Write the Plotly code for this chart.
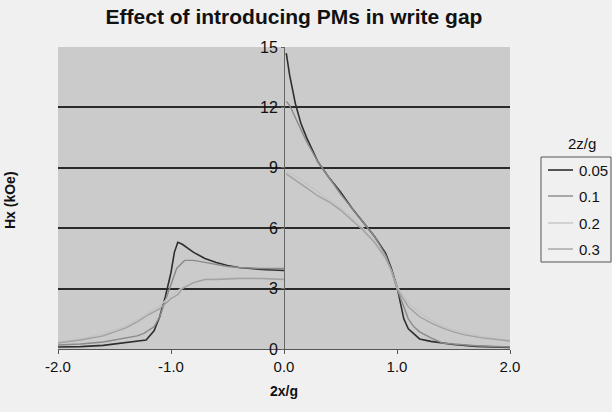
import plotly.graph_objects as go

# ---- data ----
series_names = ["0.05", "0.1", "0.2", "0.3"]

# left half (x <= 0)
x_left_005 = [-2.0, -1.8, -1.6, -1.5, -1.4, -1.3, -1.22, -1.15, -1.1, -1.05, -1.0, -0.97, -0.94, -0.9, -0.8, -0.7, -0.6, -0.5, -0.4, -0.2, 0.0]
y_left_005 = [0.1, 0.12, 0.18, 0.25, 0.35, 0.4, 0.45, 0.9, 1.6, 2.6, 3.8, 4.8, 5.3, 5.2, 4.8, 4.5, 4.3, 4.15, 4.05, 3.95, 3.9]

x_left_01 = [-2.0, -1.8, -1.6, -1.5, -1.4, -1.3, -1.24, -1.15, -1.1, -1.05, -1.0, -0.95, -0.88, -0.8, -0.7, -0.6, -0.5, -0.4, -0.2, 0.0]
y_left_01 = [0.2, 0.25, 0.35, 0.45, 0.55, 0.65, 0.78, 1.1, 1.6, 2.4, 3.3, 4.0, 4.4, 4.4, 4.3, 4.2, 4.1, 4.05, 4.0, 4.0]

x_left_02 = [-2.0, -1.8, -1.6, -1.5, -1.4, -1.3, -1.2, -1.1, -1.0, -0.9, -0.8, -0.7, -0.6, -0.4, -0.2, 0.0]
y_left_02 = [0.35, 0.5, 0.75, 0.95, 1.15, 1.45, 1.8, 2.15, 2.65, 3.05, 3.3, 3.45, 3.5, 3.55, 3.5, 3.5]

x_left_03 = [-2.0, -1.8, -1.6, -1.5, -1.4, -1.3, -1.2, -1.1, -1.0, -0.94, -0.9, -0.8, -0.7, -0.6, -0.4, -0.2, 0.0]
y_left_03 = [0.3, 0.45, 0.65, 0.85, 1.05, 1.35, 1.7, 2.0, 2.5, 2.7, 3.0, 3.3, 3.45, 3.45, 3.5, 3.5, 3.45]

# right half (x > 0)
x_right_005 = [0.02, 0.05, 0.1, 0.15, 0.2, 0.3, 0.4, 0.5, 0.6, 0.7, 0.8, 0.9, 0.95, 1.0, 1.03, 1.06, 1.1, 1.2, 1.3, 1.5, 1.7, 2.0]
y_right_005 = [14.7, 13.6, 12.2, 11.2, 10.5, 9.3, 8.5, 7.8, 7.0, 6.3, 5.6, 4.75, 4.0, 3.1, 2.2, 1.5, 1.0, 0.5, 0.38, 0.22, 0.13, 0.08]

x_right_01 = [0.02, 0.05, 0.1, 0.15, 0.2, 0.3, 0.4, 0.5, 0.6, 0.7, 0.8, 0.9, 0.95, 1.0, 1.05, 1.1, 1.15, 1.2, 1.3, 1.4, 1.5, 1.7, 2.0]
y_right_01 = [12.3, 12.1, 11.5, 10.9, 10.3, 9.3, 8.5, 7.7, 7.0, 6.3, 5.6, 4.65, 3.9, 3.0, 2.2, 1.5, 1.1, 0.85, 0.55, 0.3, 0.25, 0.16, 0.1]

x_right_02 = [0.02, 0.1, 0.2, 0.3, 0.4, 0.5, 0.6, 0.7, 0.8, 0.9, 0.95, 1.0, 1.1, 1.2, 1.3, 1.4, 1.5, 1.6, 1.75, 2.0]
y_right_02 = [8.8, 8.6, 8.2, 7.8, 7.4, 7.0, 6.5, 6.0, 5.4, 4.5, 3.9, 3.1, 2.3, 1.8, 1.45, 1.15, 0.95, 0.8, 0.62, 0.45]

x_right_03 = [0.02, 0.1, 0.2, 0.3, 0.4, 0.5, 0.6, 0.7, 0.8, 0.9, 0.95, 1.0, 1.1, 1.2, 1.3, 1.4, 1.5, 1.6, 1.75, 2.0]
y_right_03 = [8.7, 8.4, 8.0, 7.6, 7.3, 6.9, 6.4, 5.9, 5.3, 4.5, 3.9, 3.0, 2.1, 1.6, 1.3, 1.05, 0.85, 0.7, 0.55, 0.4]

x_ticks = [-2.0, -1.0, 0.0, 1.0, 2.0]
y_ticks = [0, 3, 6, 9, 12, 15]
legend_title = "2z/g"

colors = ["#2e2e2e", "#8a8a8a", "#c4c4c4", "#a2a2a2"]
widths = [1.6, 1.4, 1.4, 1.4]

lefts = [(x_left_005, y_left_005), (x_left_01, y_left_01), (x_left_02, y_left_02), (x_left_03, y_left_03)]
rights = [(x_right_005, y_right_005), (x_right_01, y_right_01), (x_right_02, y_right_02), (x_right_03, y_right_03)]

fig = go.Figure()
for name, (xl, yl), (xr, yr), c, w in zip(series_names, lefts, rights, colors, widths):
    xs = list(xl) + [None] + list(xr)
    ys = list(yl) + [None] + list(yr)
    fig.add_trace(go.Scatter(x=xs, y=ys, mode="lines", name=name, showlegend=False,
                             line=dict(color=c, width=w), connectgaps=False))

font_main = "Liberation Sans, Arial, sans-serif"
W, H = 612, 412
L, R, T, B = 58, 510, 47, 349
PW, PH = R - L, B - T


def px(x):
    return (x - L) / PW


def py(y):
    return (B - y) / PH


fig.update_layout(
    width=W, height=H,
    margin=dict(l=L, r=W - R, t=T, b=H - B, autoexpand=False),
    paper_bgcolor="#f0f0f0",
    plot_bgcolor="#cbcbcb",
    font=dict(family=font_main, size=15, color="#111111"),
    title=dict(text="<b>Effect of introducing PMs in write gap</b>", x=294 / W, xref="container",
               xanchor="center", y=1 - 17 / H, yref="container", yanchor="middle",
               font=dict(size=21, color="#111111")),
    xaxis=dict(range=[-2, 2], tickvals=x_ticks, ticktext=[f"{v:.1f}" for v in x_ticks],
               showgrid=False, zeroline=False, showline=True, linecolor="#555555", linewidth=1,
               ticks="outside", ticklen=4, tickcolor="#555555", tickfont=dict(size=15),
               title=dict(text="<b>2x/g</b>", standoff=12, font=dict(size=14))),
    yaxis=dict(range=[0, 15], tickvals=y_ticks, anchor="free", position=0.5,
               showgrid=True, gridcolor="#2a2a2a", gridwidth=1.5, zeroline=False,
               showline=True, linecolor="#666666", linewidth=1,
               ticks="outside", ticklen=3, tickcolor="#666666",
               tickfont=dict(size=16)),
    showlegend=False,
)

fig.add_annotation(text="<b>Hx (kOe)</b>", textangle=-90, xref="paper", yref="paper",
                   x=px(10), y=py(200), xanchor="center", yanchor="middle",
                   showarrow=False, font=dict(size=14))

# manual legend (Excel style: title above box, short line samples)
fig.add_annotation(text=legend_title, xref="paper", yref="paper",
                   x=px(582), y=py(143), xanchor="center", yanchor="middle",
                   showarrow=False, font=dict(size=15))
fig.add_shape(type="rect", xref="paper", yref="paper",
              x0=px(541), x1=px(611), y0=py(157), y1=py(262),
              line=dict(color="#555555", width=1), fillcolor="rgba(0,0,0,0)")
item_y = [170, 196, 223, 249]
for name, c, w, yy in zip(series_names, colors, widths, item_y):
    fig.add_shape(type="line", xref="paper", yref="paper",
                  x0=px(548), x1=px(573), y0=py(yy), y1=py(yy),
                  line=dict(color=c, width=w))
    fig.add_annotation(text=name, xref="paper", yref="paper",
                       x=px(577), y=py(yy), xanchor="left", yanchor="middle",
                       showarrow=False, font=dict(size=15))

fig.write_html("out.html", config={"displayModeBar": False},
               post_script="document.body.style.margin='0';document.body.style.overflow='hidden';")
